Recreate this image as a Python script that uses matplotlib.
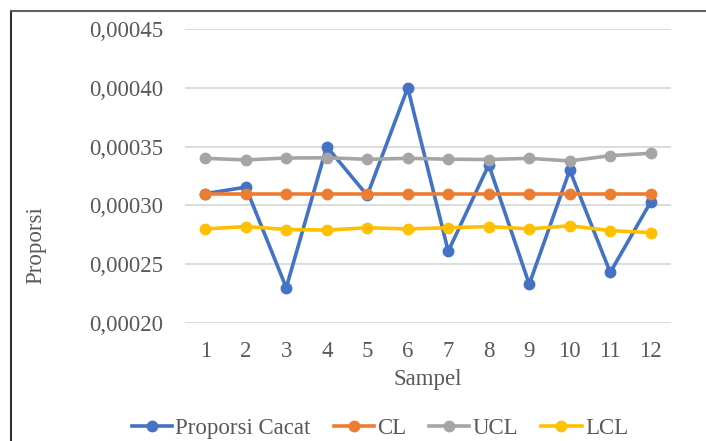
import matplotlib.pyplot as plt
from matplotlib.lines import Line2D
from matplotlib.ticker import FuncFormatter

sampel = [1, 2, 3, 4, 5, 6, 7, 8, 9, 10, 11, 12]
proporsi_cacat = [0.000310, 0.0003155, 0.000230, 0.000350, 0.0003085, 0.000400,
                  0.000261, 0.0003345, 0.000233, 0.000330, 0.000243, 0.000303]
cl = [0.000310] * 12
ucl = [0.000340, 0.0003387, 0.0003403, 0.0003405, 0.0003392, 0.0003400,
       0.0003393, 0.0003390, 0.0003400, 0.0003378, 0.0003423, 0.0003443]
lcl = [0.000280, 0.000282, 0.0002795, 0.000279, 0.000281, 0.000280,
       0.000281, 0.000282, 0.000280, 0.0002827, 0.0002786, 0.0002768]

plt.rcParams['font.family'] = ['Liberation Serif', 'DejaVu Serif']
txt = '#595959'
fs = 16.5

fig = plt.figure(figsize=(7.06, 4.41), dpi=100)
ax = fig.add_axes([185/706, 1-323/441, 486/706, 294/441])

series = [
    (proporsi_cacat, '#4472C4', 'Proporsi Cacat'),
    (cl, '#ED7D31', 'CL'),
    (ucl, '#A5A5A5', 'UCL'),
    (lcl, '#FFC000', 'LCL'),
]
for vals, col, lab in series:
    ax.plot(sampel, vals, color=col, lw=2.6, marker='o', ms=7.5, label=lab)

ax.set_xlim(0.5, 12.5)
ax.set_ylim(0.0002, 0.00045)
ax.set_yticks([0.0002, 0.00025, 0.0003, 0.00035, 0.0004, 0.00045])
ax.set_xticks(sampel)
ax.yaxis.set_major_formatter(FuncFormatter(lambda v, p: f'{v:.5f}'.replace('.', ',')))
ax.grid(axis='y', color='#D9D9D9', lw=1.3)
ax.set_axisbelow(True)
for s in ax.spines.values():
    s.set_visible(False)
ax.tick_params(length=0, labelsize=fs, labelcolor=txt)
ax.tick_params(axis='y', pad=16)
ax.tick_params(axis='x', pad=13)

ax.set_xlabel('Sampel', fontsize=fs, color=txt, labelpad=5)
fig.text(36/706, 1-245/441, 'Proporsi', rotation=90, fontsize=fs, color=txt,
         ha='center', va='center')

fig.legend(loc='center', bbox_to_anchor=(380/706, 1-428/441), ncol=4, frameon=False,
           fontsize=fs, labelcolor=txt, handlelength=1.75, handletextpad=0.15,
           columnspacing=1.0)

# frame lines at top and left
fig.add_artist(Line2D([11/706, 11/706], [0, 1-11/441], color='#303030', lw=1.5,
                      transform=fig.transFigure))
fig.add_artist(Line2D([11/706, 1], [1-11/441, 1-11/441], color='#606060', lw=1.5,
                      transform=fig.transFigure))

fig.savefig('out.png', dpi=100)
